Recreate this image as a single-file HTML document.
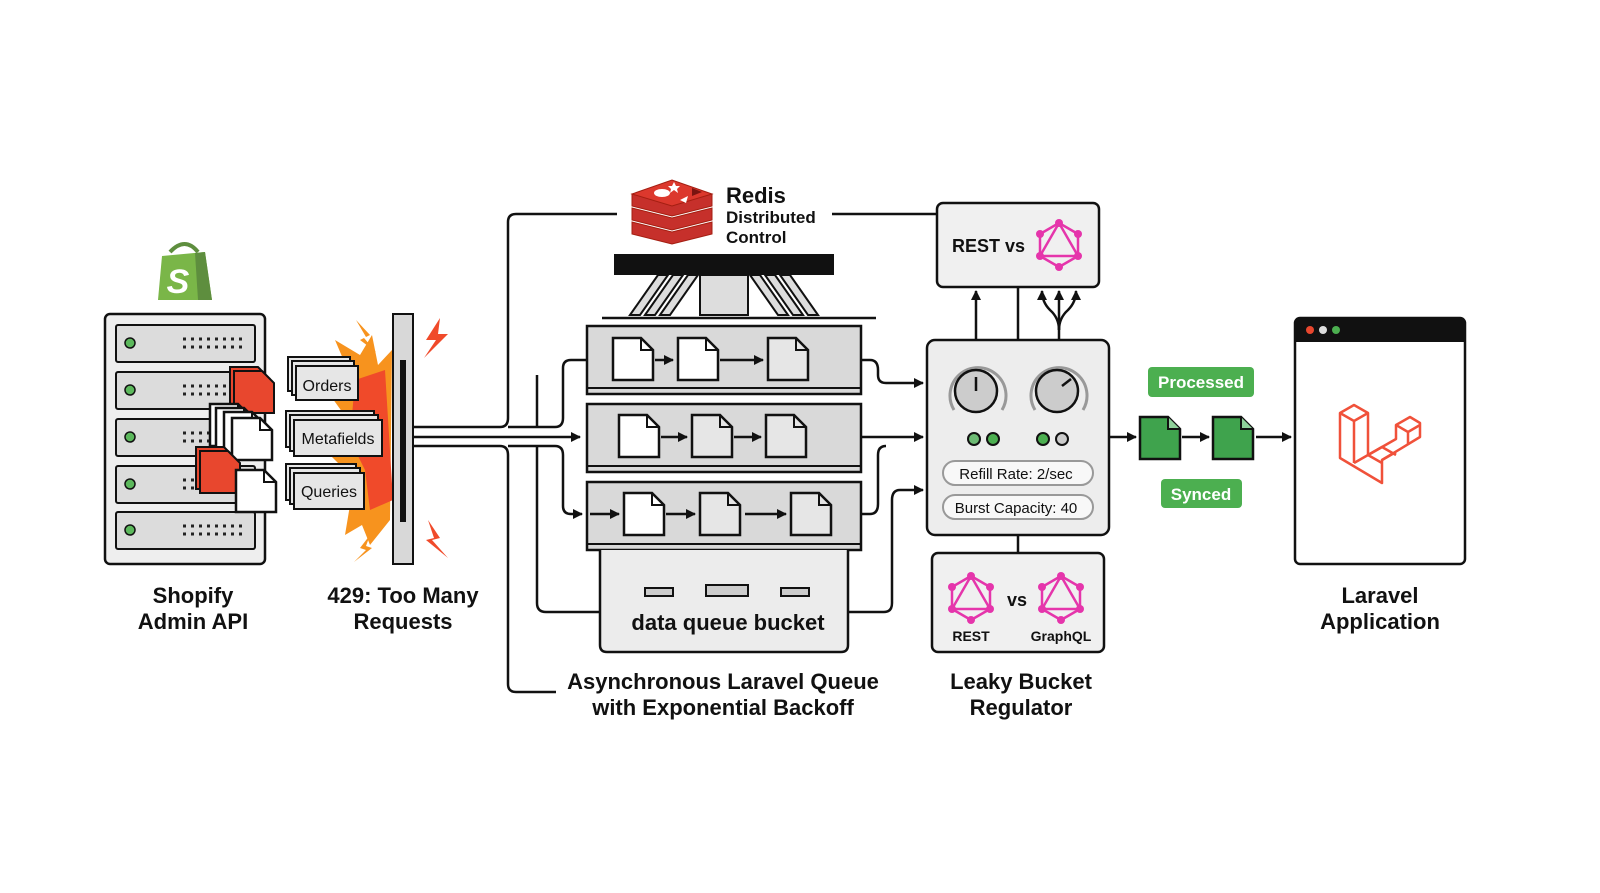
<!DOCTYPE html>
<html><head><meta charset="utf-8"><style>
html,body{margin:0;padding:0;background:#fff;}
svg{display:block;}
text{font-family:"Liberation Sans",sans-serif;font-weight:bold;fill:#111;}
</style></head><body>
<svg width="1600" height="893" viewBox="0 0 1600 893" xmlns="http://www.w3.org/2000/svg">
<defs>
<g id="doc"><path d="M0,0 H28 L40,12 V42 H0 Z" fill="#fff" stroke="#111" stroke-width="2.5"/><path d="M28,0 V12 H40" fill="none" stroke="#111" stroke-width="2"/></g>
<g id="docg"><path d="M0,0 H28 L40,12 V42 H0 Z" fill="#e6e6e6" stroke="#111" stroke-width="2.5"/><path d="M28,0 V12 H40" fill="none" stroke="#111" stroke-width="2"/></g>
<g id="docgr"><path d="M0,0 H28 L40,12 V42 H0 Z" fill="#3fa34d" stroke="#111" stroke-width="2.5"/><path d="M28,0 V12 H40" fill="#8fd19a" stroke="#111" stroke-width="2"/></g>
<g id="docr"><path d="M0,0 H28 L40,12 V42 H0 Z" fill="#e8472e" stroke="#111" stroke-width="2"/></g>
<g id="gql" stroke="#e535ab" stroke-width="2.5" fill="none">
<polygon points="0,-22 19,-11 19,11 0,22 -19,11 -19,-11"/>
<polygon points="0,-22 19,11 -19,11"/>
<g fill="#e535ab" stroke="none"><circle cx="0" cy="-22" r="4"/><circle cx="19" cy="-11" r="4"/><circle cx="19" cy="11" r="4"/><circle cx="0" cy="22" r="4"/><circle cx="-19" cy="11" r="4"/><circle cx="-19" cy="-11" r="4"/></g>
</g>
<marker id="ar" markerWidth="10" markerHeight="10" refX="9" refY="5" orient="auto" markerUnits="userSpaceOnUse"><path d="M0,0 L10,5 L0,10 Z" fill="#111"/></marker>
</defs>

<!-- Shopify logo -->
<path d="M170,252 Q185,236 198,252" fill="none" stroke="#5e8e3e" stroke-width="4"/>
<path d="M162,256 L205,252 L212,300 L158,300 Z" fill="#7ab648"/>
<path d="M195,253 L205,252 L212,300 L198,300 Z" fill="#5e8e3e"/>
<text x="178" y="293" font-size="34" fill="#fff" style="fill:#fff" font-style="italic" text-anchor="middle">S</text>

<!-- Server rack -->
<rect x="105" y="314" width="160" height="250" rx="5" fill="#eee" stroke="#111" stroke-width="2.5"/>
<g stroke="#111" stroke-width="2" fill="#dcdcdc">
<rect x="116" y="325" width="139" height="37" rx="2"/>
<rect x="116" y="372" width="139" height="37" rx="2"/>
<rect x="116" y="419" width="139" height="37" rx="2"/>
<rect x="116" y="466" width="139" height="37" rx="2"/>
<rect x="116" y="512" width="139" height="37" rx="2"/>
</g>
<g fill="#5cb85c" stroke="#111" stroke-width="1.5">
<circle cx="130" cy="343" r="5"/><circle cx="130" cy="390" r="5"/><circle cx="130" cy="437" r="5"/><circle cx="130" cy="484" r="5"/><circle cx="130" cy="530" r="5"/>
</g>
<g stroke="#222" stroke-width="3" stroke-dasharray="3,5">
<line x1="183" y1="339" x2="245" y2="339"/><line x1="183" y1="347" x2="245" y2="347"/>
<line x1="183" y1="386" x2="245" y2="386"/><line x1="183" y1="394" x2="245" y2="394"/>
<line x1="183" y1="433" x2="245" y2="433"/><line x1="183" y1="441" x2="245" y2="441"/>
<line x1="183" y1="480" x2="245" y2="480"/><line x1="183" y1="488" x2="245" y2="488"/>
<line x1="183" y1="526" x2="245" y2="526"/><line x1="183" y1="534" x2="245" y2="534"/>
</g>
<!-- doc stacks on rack -->
<use href="#docr" x="230" y="367"/><use href="#docr" x="234" y="371"/>
<use href="#doc" x="210" y="404"/><use href="#doc" x="216" y="408"/><use href="#doc" x="224" y="412"/><use href="#doc" x="232" y="418"/>
<use href="#docr" x="196" y="447"/><use href="#docr" x="200" y="451"/>
<use href="#doc" x="236" y="470"/>

<!-- explosion -->
<polygon points="335,340 360,355 372,335 378,365 392,350 390,520 370,545 362,525 345,535 350,505 330,500 345,470 325,450 348,420 330,395 352,380" fill="#f7931e"/>
<polygon points="355,380 385,370 393,500 370,510 365,470 350,440" fill="#f04a2a"/>
<path d="M356,320 L370,335 L364,338 L376,352 L360,340 L366,337 Z" fill="#f7931e"/>
<path d="M440,318 L426,340 L436,340 L424,358 L448,334 L438,334 Z" fill="#f04a2a"/>
<path d="M428,520 L440,538 L432,540 L448,558 L426,540 L434,538 Z" fill="#f04a2a"/>
<path d="M370,535 L360,548 L366,550 L354,562 L372,548 L366,546 Z" fill="#f7931e"/>

<!-- query cards -->
<g stroke="#111" stroke-width="2" fill="#e6e6e6">
<rect x="288" y="357" width="62" height="34"/><rect x="292" y="361" width="62" height="34"/><rect x="296" y="366" width="62" height="34"/>
<rect x="286" y="411" width="88" height="36"/><rect x="290" y="415" width="88" height="36"/><rect x="294" y="420" width="88" height="36"/>
<rect x="286" y="464" width="70" height="36"/><rect x="290" y="468" width="70" height="36"/><rect x="294" y="473" width="70" height="36"/>
</g>
<text x="327" y="391" font-size="16" text-anchor="middle" font-weight="normal" style="font-weight:normal">Orders</text>
<text x="338" y="444" font-size="16" text-anchor="middle" style="font-weight:normal">Metafields</text>
<text x="329" y="497" font-size="16" text-anchor="middle" style="font-weight:normal">Queries</text>

<!-- wall -->
<rect x="393" y="314" width="20" height="250" fill="#d8d8d8" stroke="#111" stroke-width="2"/>
<rect x="400" y="360" width="6" height="162" fill="#111"/>

<!-- connectors from wall -->
<g fill="none" stroke="#111" stroke-width="2.5">
<line x1="413" y1="427" x2="500" y2="427"/>
<line x1="413" y1="446" x2="500" y2="446"/>
<path d="M413,437 H580" marker-end="url(#ar)"/>
<path d="M500,427 Q508,427 508,418 V222 Q508,214 516,214 H617"/>
<path d="M500,446 Q508,446 508,455 V684 Q508,692 516,692 H556"/>
<path d="M508,427 H555 Q563,427 563,418 V368 Q563,360 571,360 H610" marker-end="url(#ar)"/>
<path d="M508,446 H555 Q563,446 563,455 V506 Q563,514 571,514 H582" marker-end="url(#ar)"/>
<line x1="537" y1="375" x2="537" y2="427"/>
<path d="M537,446 V603 Q537,612 546,612 H600"/>
<path d="M832,214 H937"/>
<!-- queue outputs -->
<path d="M820,360 H870 Q878,360 878,370 V375 Q878,383 886,383 H923" marker-end="url(#ar)"/>
<path d="M812,437 H923" marker-end="url(#ar)"/>
<path d="M851,514 H870 Q878,514 878,504 V455 Q878,446 886,446"/>
<path d="M848,612 H884 Q892,612 892,603 V500 Q892,490 900,490 H923" marker-end="url(#ar)"/>
</g>

<!-- Redis logo -->
<g stroke="#a41e11" stroke-width="1">
<polygon points="632,222 672,232 712,222 712,234 672,244 632,234" fill="#c6302b"/>
<polygon points="632,208 672,218 712,208 712,220 672,230 632,220" fill="#c6302b"/>
<polygon points="632,194 672,204 712,194 712,206 672,216 632,206" fill="#c6302b"/>
<polygon points="632,194 672,180 712,194 672,206" fill="#dc382d"/>
</g>
<ellipse cx="662" cy="193" rx="8" ry="4" fill="#fff"/>
<polygon points="672,186 674,182 676,186 680,186 677,189 678,193 674,190 670,193 671,189 668,186" fill="#fff"/>
<polygon points="680,200 688,196 686,203" fill="#fff"/>
<polygon points="692,188 702,192 692,196" fill="#7a1410"/>
<text x="726" y="203" font-size="22">Redis</text>
<text x="726" y="223" font-size="17">Distributed</text>
<text x="726" y="243" font-size="17">Control</text>

<!-- queue rack -->
<rect x="614" y="254" width="220" height="21" fill="#111"/>
<g fill="#ddd" stroke="#111" stroke-width="2">
<rect x="700" y="275" width="48" height="40"/>
<polygon points="630,315 658,275 668,275 640,315"/>
<polygon points="645,315 673,275 683,275 655,315"/>
<polygon points="660,315 688,275 698,275 670,315"/>
<polygon points="818,315 790,275 780,275 808,315"/>
<polygon points="803,315 775,275 765,275 793,315"/>
<polygon points="788,315 760,275 750,275 778,315"/>
</g>
<line x1="602" y1="318" x2="876" y2="318" stroke="#111" stroke-width="2.5"/>
<g fill="#d9d9d9" stroke="#111" stroke-width="2.5">
<rect x="587" y="326" width="274" height="68"/>
<rect x="587" y="404" width="274" height="68"/>
<rect x="587" y="482" width="274" height="68"/>
</g>
<g stroke="#111" stroke-width="2"><line x1="587" y1="388" x2="861" y2="388"/><line x1="587" y1="466" x2="861" y2="466"/><line x1="587" y1="544" x2="861" y2="544"/></g>
<use href="#doc" x="613" y="338"/><use href="#doc" x="678" y="338"/><use href="#docg" x="768" y="338"/>
<use href="#doc" x="619" y="415"/><use href="#docg" x="692" y="415"/><use href="#docg" x="766" y="415"/>
<use href="#doc" x="624" y="493"/><use href="#docg" x="700" y="493"/><use href="#docg" x="791" y="493"/>
<g stroke="#111" stroke-width="2.5" fill="none">
<path d="M655,360 H673" marker-end="url(#ar)"/><path d="M720,360 H763" marker-end="url(#ar)"/>
<path d="M661,437 H687" marker-end="url(#ar)"/><path d="M734,437 H761" marker-end="url(#ar)"/>
<path d="M590,514 H619" marker-end="url(#ar)"/><path d="M666,514 H695" marker-end="url(#ar)"/><path d="M745,514 H786" marker-end="url(#ar)"/>
</g>
<!-- bucket -->
<path d="M600,550 V645 Q600,652 607,652 H841 Q848,652 848,645 V550" fill="#ececec" stroke="#111" stroke-width="2.5"/>
<g fill="#ccc" stroke="#111" stroke-width="2">
<rect x="645" y="588" width="28" height="8"/><rect x="706" y="585" width="42" height="11"/><rect x="781" y="588" width="28" height="8"/>
</g>
<text x="728" y="630" font-size="22" text-anchor="middle">data queue bucket</text>

<!-- REST vs box -->
<rect x="937" y="203" width="162" height="84" rx="6" fill="#f0f0f0" stroke="#111" stroke-width="2.5"/>
<text x="952" y="252" font-size="18">REST  vs</text>
<use href="#gql" x="1059" y="245"/>
<g stroke="#111" stroke-width="2.5" fill="none">
<path d="M976,340 V291" marker-end="url(#ar)"/>
<line x1="1018" y1="340" x2="1018" y2="287"/>
<path d="M1059,340 V291" marker-end="url(#ar)"/>
<path d="M1059,330 Q1059,318 1050,310 Q1042,302 1042,291" marker-end="url(#ar)"/>
<path d="M1059,330 Q1059,318 1068,310 Q1076,302 1076,291" marker-end="url(#ar)"/>
</g>

<!-- regulator -->
<rect x="927" y="340" width="182" height="195" rx="8" fill="#ededed" stroke="#111" stroke-width="2.5"/>
<path d="M954,410 A28,28 0 1 1 1002,410" fill="none" stroke="#999" stroke-width="3"/>
<circle cx="976" cy="391" r="21" fill="#ccc" stroke="#111" stroke-width="2.5"/>
<line x1="976" y1="377" x2="976" y2="391" stroke="#111" stroke-width="2.5"/>
<path d="M1035,410 A28,28 0 1 1 1083,410" fill="none" stroke="#999" stroke-width="3"/>
<circle cx="1057" cy="391" r="21" fill="#ccc" stroke="#111" stroke-width="2.5"/>
<line x1="1062" y1="386" x2="1071" y2="379" stroke="#111" stroke-width="2.5"/>
<g stroke="#111" stroke-width="2">
<circle cx="974" cy="439" r="6" fill="#6dbb74"/><circle cx="993" cy="439" r="6" fill="#4caf50"/>
<circle cx="1043" cy="439" r="6" fill="#4caf50"/><circle cx="1062" cy="439" r="6" fill="#ccc"/>
</g>
<rect x="943" y="461" width="150" height="24" rx="12" fill="#f8f8f8" stroke="#999" stroke-width="2"/>
<rect x="943" y="495" width="150" height="24" rx="12" fill="#f8f8f8" stroke="#999" stroke-width="2"/>
<text x="1016" y="479" font-size="15" text-anchor="middle" style="font-weight:normal">Refill Rate: 2/sec</text>
<text x="1016" y="513" font-size="15" text-anchor="middle" style="font-weight:normal">Burst Capacity: 40</text>
<line x1="1018" y1="535" x2="1018" y2="553" stroke="#111" stroke-width="2.5"/>
<rect x="932" y="553" width="172" height="99" rx="6" fill="#f0f0f0" stroke="#111" stroke-width="2.5"/>
<use href="#gql" x="971" y="598"/><use href="#gql" x="1061" y="598"/>
<text x="1017" y="606" font-size="18" text-anchor="middle">vs</text>
<text x="971" y="641" font-size="14" text-anchor="middle">REST</text>
<text x="1061" y="641" font-size="14" text-anchor="middle">GraphQL</text>

<!-- output -->
<g stroke="#111" stroke-width="2.5" fill="none">
<path d="M1109,437 H1136" marker-end="url(#ar)"/>
<path d="M1182,437 H1209" marker-end="url(#ar)"/>
<path d="M1256,437 H1291" marker-end="url(#ar)"/>
</g>
<use href="#docgr" x="1140" y="417"/><use href="#docgr" x="1213" y="417"/>
<rect x="1148" y="367" width="106" height="30" rx="4" fill="#4caf50"/>
<text x="1201" y="388" font-size="17" text-anchor="middle" style="fill:#fff">Processed</text>
<rect x="1161" y="479" width="81" height="29" rx="4" fill="#4caf50"/>
<text x="1201" y="500" font-size="17" text-anchor="middle" style="fill:#fff">Synced</text>

<!-- laravel window -->
<rect x="1295" y="318" width="170" height="246" rx="5" fill="#fff" stroke="#111" stroke-width="2.5"/>
<path d="M1295,342 V323 Q1295,318 1300,318 H1460 Q1465,318 1465,323 V342 Z" fill="#111"/>
<circle cx="1310" cy="330" r="4" fill="#e8472e"/><circle cx="1323" cy="330" r="4" fill="#ddd"/><circle cx="1336" cy="330" r="4" fill="#4caf50"/>
<g fill="none" stroke="#f0513a" stroke-width="2.5" stroke-linejoin="round">
<path d="M1340,413 L1354,405 L1368,413 L1368,455 L1396,439 L1396,425 L1410,417 L1420,423 L1420,437 L1382,460 L1382,483 L1340,458 Z"/>
<path d="M1340,413 L1354,421 L1368,413 M1354,421 V463 M1354,463 L1382,447 L1396,455 M1382,460 L1396,452 M1396,425 L1408,432 L1420,425 M1408,432 V445 M1368,455 L1382,463"/>
</g>

<!-- labels -->
<g font-size="22" text-anchor="middle">
<text x="193" y="603">Shopify</text><text x="193" y="629">Admin API</text>
<text x="403" y="603">429: Too Many</text><text x="403" y="629">Requests</text>
<text x="723" y="689">Asynchronous Laravel Queue</text><text x="723" y="715">with Exponential Backoff</text>
<text x="1021" y="689">Leaky Bucket</text><text x="1021" y="715">Regulator</text>
<text x="1380" y="603">Laravel</text><text x="1380" y="629">Application</text>
</g>
</svg>
</body></html>
